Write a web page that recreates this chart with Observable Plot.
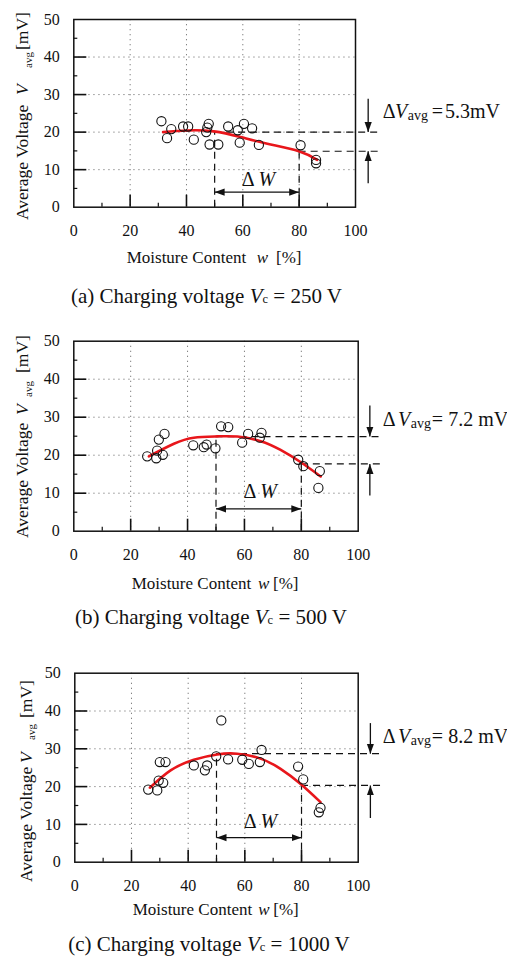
<!DOCTYPE html>
<html><head><meta charset="utf-8">
<script src="https://cdn.jsdelivr.net/npm/d3@7"></script>
<script src="https://cdn.jsdelivr.net/npm/@observablehq/plot@0.6"></script>
<style>
body{margin:0;background:#fff;}
#wrap{position:relative;width:507px;height:958px;overflow:hidden;background:#fff;}
.panel{position:absolute;left:0;}
.cap{position:absolute;left:0;text-align:center;font-family:"Liberation Serif",serif;font-size:21px;line-height:21px;color:#111;white-space:nowrap;}
.cap .sub{font-size:12.5px;}
</style></head><body><div id="wrap"></div>
<script>
// ---- shared axis values ----
const xTicks = [0, 20, 40, 60, 80, 100];
const yTicks = [0, 10, 20, 30, 40, 50];
const xGrid = [20, 40, 60, 80];
const yGrid = [10, 20, 30, 40];
const xMinor = [10, 30, 50, 70, 90];
const yMinor = [5, 15, 25, 35, 45];
const deltaWRange = [50, 80];

// ---- (a) Vc = 250 V ----
const moistureA = [31.1,33.1,34.6,38.8,40.6,42.6,47.0,47.4,47.9,48.2,51.3,54.8,58.2,58.9,60.4,63.3,65.7,80.5,86.0,86.0];
const voltageA  = [22.9,18.4,20.8,21.5,21.5,18.0,20.0,21.2,22.2,16.7,16.7,21.5,20.5,17.2,22.2,21.0,16.6,16.5,12.6,11.7];
const fitMoistureA = [31.7,40.3,49.7,59.2,68.7,79.9,86.4];
const fitVoltageA  = [20.0,20.45,20.2,18.7,16.9,14.9,12.6];
const levelsA = [20.0, 14.9];
const arrowTailsA = [28.9, 6.4];
const arrowXA = 104.5;
const deltaWArrowYA = 4.0;
const deltaVLabelA = "5.3mV";
const captionA = ["(a) Charging voltage ", "V", "c", " = 250 V"];

// ---- (b) Vc = 500 V ----
const moistureB = [25.8,29.0,29.3,29.9,31.3,31.9,42.0,45.7,46.7,49.8,51.8,54.3,59.2,61.3,65.4,66.0,78.9,80.7,86.5,86.0];
const voltageB  = [19.7,19.2,21.2,24.1,20.1,25.6,22.6,22.1,22.8,21.8,27.6,27.4,23.3,25.6,24.6,25.9,18.8,17.1,15.8,11.4];
const fitMoistureB = [26.4,35.2,42.2,50.4,57.5,65.7,72.7,79.7,86.8];
const fitVoltageB  = [19.7,23.0,24.6,24.95,24.9,23.7,21.4,18.2,14.4];
const levelsB = [24.9, 17.7];
const arrowTailsB = [33.1, 9.4];
const arrowXB = 104.1;
const deltaWArrowYB = 5.9;
const deltaVLabelB = "7.2 mV";
const captionB = ["(b) Charging voltage ", "V", "c", " = 500 V"];

// ---- (c) Vc = 1000 V ----
const moistureC = [25.9,29.1,29.6,30.0,31.2,32.0,42.0,45.9,46.7,49.9,51.7,54.1,59.1,61.4,65.3,65.9,78.8,80.6,86.1,86.7];
const voltageC  = [19.2,19.0,21.6,26.5,21.0,26.5,25.6,24.3,25.6,28.0,37.5,27.2,27.1,26.0,26.5,29.7,25.3,21.9,13.2,14.4];
const fitMoistureC = [26.5,33.8,42.0,50.2,57.3,65.5,72.6,79.7,86.7];
const fitVoltageC  = [19.7,24.3,27.1,28.5,28.7,27.4,24.7,20.7,15.9];
const levelsC = [28.7, 20.3];
const arrowTailsC = [36.8, 11.7];
const arrowXC = 104.3;
const deltaWArrowYC = 6.5;
const deltaVLabelC = "8.2 mV";
const captionC = ["(c) Charging voltage ", "V", "c", " = 1000 V"];

// ---- layout (pixels) ----
const layouts = [
  {top:0, height:275, ml:73.3, mr:152, mt:19, mb:68.3,
   yt:{bx:28.3, start:220, xs:[0,125,152,170]},
   xt:{baseline:263, xs:[126.7,256.7,276]},
   dv:{baseline:117.7, xs:[382.7,395,407.7,431.7,445]},
   dwBaseline:186, capBaseline:304, capCenter:206.5},
  {top:320, height:275, ml:73.3, mr:149.3, mt:20.7, mb:64.3,
   yt:{bx:28.3, start:218, xs:[0,123,141,165]},
   xt:{baseline:269, xs:[131.7,258,273]},
   dv:{baseline:106, xs:[382.7,398,410.7,431.7,448.3]},
   dwBaseline:178.3, capBaseline:625, capCenter:211},
  {top:640, height:285, ml:74.3, mr:149.3, mt:32.7, mb:63.3,
   yt:{bx:31.7, start:242, xs:[0,119,142,164]},
   xt:{baseline:275, xs:[132.7,258.3,273.3]},
   dv:{baseline:103.3, xs:[382.7,398,410.7,431.7,448.3]},
   dwBaseline:188.3, capBaseline:951.7, capCenter:209}
];

const panels = [
  {w:moistureA, v:voltageA, cw:fitMoistureA, cv:fitVoltageA, levels:levelsA, tails:arrowTailsA, ax:arrowXA, dwy:deltaWArrowYA, dvl:deltaVLabelA, cap:captionA},
  {w:moistureB, v:voltageB, cw:fitMoistureB, cv:fitVoltageB, levels:levelsB, tails:arrowTailsB, ax:arrowXB, dwy:deltaWArrowYB, dvl:deltaVLabelB, cap:captionB},
  {w:moistureC, v:voltageC, cw:fitMoistureC, cv:fitVoltageC, levels:levelsC, tails:arrowTailsC, ax:arrowXC, dwy:deltaWArrowYC, dvl:deltaVLabelC, cap:captionC}
];

const FONT = "'Liberation Serif', 'Times New Roman', serif";
const wrap = document.getElementById("wrap");

panels.forEach((d, k) => {
  const L = layouts[k];
  const plotH = L.height - L.mt - L.mb;
  const plotW = 507 - L.ml - L.mr;
  const pts = d.w.map((w, i) => ({w, v: d.v[i]}));
  const fit = d.cw.map((w, i) => ({w, v: d.cv[i]}));
  const dashEnd = 108.5;
  const hDash = [{y: d.levels[0], x1: deltaWRange[0], x2: dashEnd}, {y: d.levels[1], x1: deltaWRange[1], x2: dashEnd}];
  const vDash = [{x: deltaWRange[0], y: d.levels[0]}, {x: deltaWRange[1], y: d.levels[1]}];
  const dvArrows = [{x: d.ax, y1: d.tails[0], y2: d.levels[0]}, {x: d.ax, y1: d.tails[1], y2: d.levels[1]}];
  const dwArrow = [{x1: deltaWRange[0], x2: deltaWRange[1], y: d.dwy}];

  const plot = Plot.plot({
    width: 507, height: L.height,
    marginLeft: L.ml, marginRight: L.mr, marginTop: L.mt, marginBottom: L.mb,
    x: {domain: [0, 100]}, y: {domain: [0, 50]},
    style: {fontFamily: FONT, fontSize: "16px", background: "white", color: "#111", overflow: "visible"},
    marks: [
      Plot.gridX(xGrid, {stroke: "#808080", strokeOpacity: 1, strokeWidth: 1, strokeDasharray: "1.3,3.7"}),
      Plot.gridY(yGrid, {stroke: "#808080", strokeOpacity: 1, strokeWidth: 1, strokeDasharray: "1.3,3.7"}),
      Plot.ruleY(hDash, {y: "y", x1: "x1", x2: "x2", stroke: "#111", strokeWidth: 1.2, strokeDasharray: "7,5"}),
      Plot.ruleX(vDash, {x: "x", y1: 0, y2: "y", stroke: "#111", strokeWidth: 1.2, strokeDasharray: "7,5"}),
      Plot.ruleX(xGrid, {insetTop: plotH - 12, stroke: "#111", strokeWidth: 1.6}),
      Plot.ruleY(yGrid, {insetRight: plotW - 13, stroke: "#111", strokeWidth: 1.6}),
      Plot.ruleX(xMinor, {insetTop: plotH - 4, stroke: "#111", strokeWidth: 1.2}),
      Plot.ruleY(yMinor, {insetRight: plotW - 4, stroke: "#111", strokeWidth: 1.2}),
      Plot.line(fit, {x: "w", y: "v", stroke: "#e8161b", strokeWidth: 2.6, curve: "natural"}),
      Plot.dot(pts, {x: "w", y: "v", r: 4.6, stroke: "#111", strokeWidth: 1.1, fill: "none"}),
      Plot.link(dvArrows, {x1: "x", x2: "x", y1: "y1", y2: "y2", stroke: "#111", strokeWidth: 1.3}),
      Plot.link(dwArrow, {x1: "x1", x2: "x2", y1: "y", y2: "y", stroke: "#111", strokeWidth: 1.3}),
      Plot.axisX(xTicks, {tickSize: 0, tickPadding: 17, fontSize: 16, fontFamily: FONT, label: null}),
      Plot.axisY(yTicks, {tickSize: 0, tickPadding: 14, fontSize: 16, fontFamily: FONT, label: null}),
      Plot.frame({stroke: "#111", strokeWidth: 1.5})
    ]
  });

  const svg = d3.select(plot);
  const mid = "ah" + k;
  svg.append("defs").append("marker")
    .attr("id", mid).attr("viewBox", "0 -5 10 10").attr("refX", 10).attr("refY", 0)
    .attr("markerUnits", "userSpaceOnUse").attr("markerWidth", 10).attr("markerHeight", 10)
    .attr("orient", "auto-start-reverse")
    .append("path").attr("d", "M0,-3.6L10,0L0,3.6Z").attr("fill", "#111");
  const links = svg.selectAll('g[aria-label="link"]').nodes();
  d3.select(links[0]).selectAll("path").attr("marker-end", `url(#${mid})`);
  d3.select(links[1]).selectAll("path").attr("marker-end", `url(#${mid})`).attr("marker-start", `url(#${mid})`);

  const xs = plot.scale("x");

  // y-axis title (rotated)
  const yt = svg.append("text").attr("font-family", FONT).attr("font-size", 17.5).attr("fill", "#111")
    .attr("text-anchor", "start")
    .attr("transform", `translate(${L.yt.bx},${L.yt.start}) rotate(-90)`);
  yt.append("tspan").attr("x", L.yt.xs[0]).text("Average Voltage");
  yt.append("tspan").attr("x", L.yt.xs[1]).attr("font-style", "italic").text("V");
  yt.append("tspan").attr("x", L.yt.xs[2]).attr("font-size", 11).attr("dy", 3.5).text("avg");
  yt.append("tspan").attr("x", L.yt.xs[3]).attr("dy", -3.5).text("[mV]");

  // x-axis title
  const xt = svg.append("text").attr("font-family", FONT).attr("font-size", 17).attr("fill", "#111")
    .attr("text-anchor", "start").attr("y", L.xt.baseline);
  xt.append("tspan").attr("x", L.xt.xs[0]).text("Moisture Content");
  xt.append("tspan").attr("x", L.xt.xs[1]).attr("font-style", "italic").text("w");
  xt.append("tspan").attr("x", L.xt.xs[2]).text("[%]");

  // ΔV annotation
  const dv = svg.append("text").attr("font-family", FONT).attr("font-size", 20).attr("fill", "#111")
    .attr("text-anchor", "start").attr("y", L.dv.baseline);
  dv.append("tspan").attr("x", L.dv.xs[0]).text("Δ");
  dv.append("tspan").attr("x", L.dv.xs[1]).attr("font-style", "italic").text("V");
  dv.append("tspan").attr("x", L.dv.xs[2]).attr("font-size", 14).attr("dy", 2).text("avg");
  dv.append("tspan").attr("x", L.dv.xs[3]).attr("dy", -2).text("=");
  dv.append("tspan").attr("x", L.dv.xs[4]).text(d.dvl);

  // ΔW label
  const dw = svg.append("text").attr("font-family", FONT).attr("font-size", 20).attr("fill", "#111")
    .attr("text-anchor", "middle").attr("x", xs.apply((deltaWRange[0] + deltaWRange[1]) / 2) + 2).attr("y", L.dwBaseline);
  dw.append("tspan").text("Δ ");
  dw.append("tspan").attr("font-style", "italic").text("W");

  const holder = document.createElement("div");
  holder.className = "panel";
  holder.style.top = L.top + "px";
  holder.appendChild(plot);
  wrap.appendChild(holder);

  const cap = document.createElement("div");
  cap.className = "cap";
  cap.style.top = (L.capBaseline - 17.6) + "px";
  cap.style.width = (2 * L.capCenter) + "px";
  cap.innerHTML = `${d.cap[0]}<i>${d.cap[1]}</i><span class="sub">${d.cap[2]}</span>${d.cap[3]}`;
  wrap.appendChild(cap);
});
</script>
</body></html>
